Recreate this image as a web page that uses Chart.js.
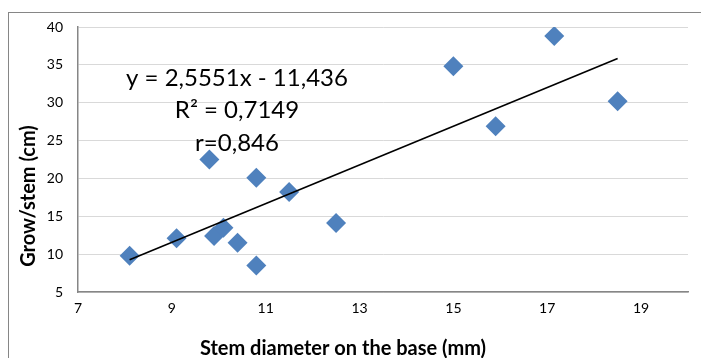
<!DOCTYPE html>
<html>
<head>
<meta charset="utf-8">
<script src="https://cdn.jsdelivr.net/npm/chart.js@4"></script>
<style>
  html, body { margin: 0; padding: 0; background: #fff; }
  #wrap { width: 701px; height: 358px; position: relative; }
</style>
</head>
<body>
<div id="wrap"><canvas id="chart" width="701" height="358"></canvas></div>
<script>
// values
const stemDiameter = [8.1, 9.1, 9.8, 10.8, 9.9, 10.1, 10.4, 10.8, 11.5, 12.5, 15.0, 15.9, 17.15, 18.5];
const growStem = [9.8, 12.1, 22.5, 20.1, 12.4, 13.5, 11.5, 8.5, 18.2, 14.1, 34.8, 26.9, 38.8, 30.2];
const trendX = [8.1, 18.5];
const trendY = [9.26, 35.83];
const xTicks = [7, 9, 11, 13, 15, 17, 19];
const yTicks = [5, 10, 15, 20, 25, 30, 35, 40];
const equationLines = ['y = 2,5551x - 11,436', 'R² = 0,7149', 'r=0,846'];

const FONT = 'Lato, "Open Sans", sans-serif';

const points = stemDiameter.map((x, i) => ({ x: x, y: growStem[i] }));
const trend = trendX.map((x, i) => ({ x: x, y: trendY[i] }));

// frame, axis titles and the trendline label
const extras = {
    id: 'extras',
    afterDraw(chart) {
        const ctx = chart.ctx;
        ctx.save();
        ctx.strokeStyle = '#868686';
        ctx.lineWidth = 1;
        ctx.strokeRect(8.5, 12.5, 720, 380);

        ctx.fillStyle = '#000';
        ctx.textAlign = 'center';
        ctx.textBaseline = 'alphabetic';
        ctx.font = 'bold 20px ' + FONT;
        ctx.fillText('Stem diameter on the base (mm)', 343, 355);

        ctx.save();
        ctx.translate(35, 196);
        ctx.rotate(-Math.PI / 2);
        ctx.fillText('Grow/stem (cm)', 0, 0);
        ctx.restore();

        ctx.font = '24px ' + FONT;
        const base = [86, 118, 151];
        equationLines.forEach((t, i) => ctx.fillText(t, 237, base[i]));
        ctx.restore();
    }
};

new Chart(document.getElementById('chart'), {
    type: 'scatter',
    data: {
        datasets: [
            {
                label: 'Grow/stem',
                data: points,
                pointStyle: 'rectRot',
                pointRadius: 10,
                pointHoverRadius: 10,
                backgroundColor: '#4f81bd',
                borderColor: '#4f81bd',
                borderWidth: 0,
                order: 1
            },
            {
                label: 'Trend',
                data: trend,
                type: 'line',
                showLine: true,
                borderColor: '#000',
                borderWidth: 1.6,
                pointRadius: 0,
                fill: false,
                order: 0
            }
        ]
    },
    options: {
        responsive: false,
        animation: false,
        layout: { padding: { left: 0, top: 27, right: 13, bottom: 0 } },
        plugins: {
            legend: { display: false },
            tooltip: { enabled: false }
        },
        scales: {
            x: {
                type: 'linear',
                min: 7,
                max: 20,
                afterBuildTicks: (s) => { s.ticks = xTicks.map(v => ({ value: v })); },
                afterFit: (s) => { s.height = 66; },
                grid: { display: false, drawTicks: false },
                border: { display: true, color: '#868686', width: 1.5 },
                ticks: { padding: 8, color: '#000', font: { family: FONT, size: 14 } }
            },
            y: {
                type: 'linear',
                min: 5,
                max: 40,
                afterBuildTicks: (s) => { s.ticks = yTicks.map(v => ({ value: v })); },
                afterFit: (s) => { s.width = 78; },
                grid: { color: '#d9d9d9', lineWidth: 1, drawTicks: false },
                border: { display: true, color: '#868686', width: 1.5 },
                ticks: { padding: 15, color: '#000', font: { family: FONT, size: 14 } }
            }
        }
    },
    plugins: [extras]
});
</script>
</body>
</html>
